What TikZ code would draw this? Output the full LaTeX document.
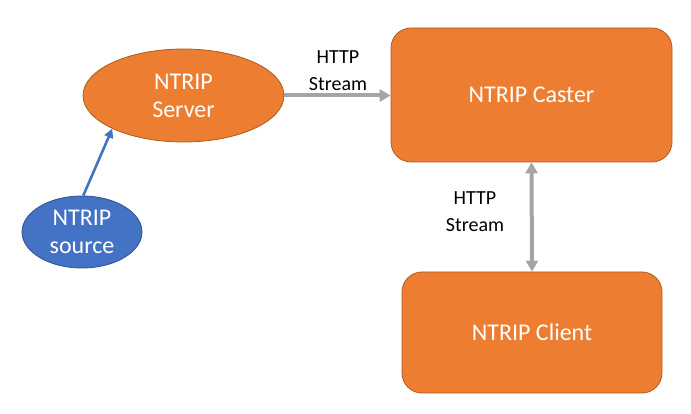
\documentclass[tikz,border=0pt]{standalone}
\usepackage{fontspec}
\setmainfont{Carlito}
\usetikzlibrary{arrows.meta,positioning,shapes.geometric}
\definecolor{fillor}{HTML}{ED7D31}
\definecolor{edgeor}{HTML}{AE5A21}
\definecolor{fillbl}{HTML}{4472C4}
\definecolor{edgebl}{HTML}{2F528F}
\definecolor{flow}{HTML}{A5A5A5}
\tikzset{
  oval/.style={ellipse, draw=edgeor, fill=fillor, line width=0.8pt, text=white,
               align=center, font=\fontsize{24}{28}\selectfont, inner sep=0pt},
  src/.style={oval, draw=edgebl, fill=fillbl},
  host/.style={rectangle, rounded corners=20pt, draw=edgeor, fill=fillor, line width=0.8pt,
               text=white, align=center, font=\fontsize{24}{28}\selectfont},
  fl/.style={-{Triangle[length=11pt,width=12pt]}, draw=flow, line width=4pt},
  flb/.style={{Triangle[length=11pt,width=12pt]}-{Triangle[length=11pt,width=12pt]}, draw=flow, line width=4pt},
  fls/.style={-{Triangle[length=9pt,width=9pt]}, draw=fillbl, line width=2.6pt},
  lbl/.style={align=center, font=\fontsize{20}{27}\selectfont, text=black}
}

\begin{document}
\begin{tikzpicture}[x=1pt, y=-1pt]
  \useasboundingbox (0,0) rectangle (691,414);
  \node[oval, minimum width=201pt, minimum height=93pt] (srv) at (183.5,95.5) {NTRIP\\Server};
  \node[src, minimum width=120pt, minimum height=72pt] (nsrc) at (82,232) {NTRIP\\source};
  \node[host, minimum width=281pt, minimum height=134pt] (cst) at (531.5,95) {NTRIP Caster};
  \node[host, minimum width=260pt, minimum height=121pt] (cli) at (532,332.5) {NTRIP Client};
  \node[lbl] (lsrv) at (338,71) {HTTP\\Stream};
  \node[lbl] (lcli) at (475,212) {HTTP\\Stream};
  \draw[fl] (srv.east) -- (cst.west |- srv.east);
  \draw[flb] (cst.south) -- (cli.north);
  \draw[fls] (nsrc.88) -- (srv.205);
\end{tikzpicture}
\end{document}
